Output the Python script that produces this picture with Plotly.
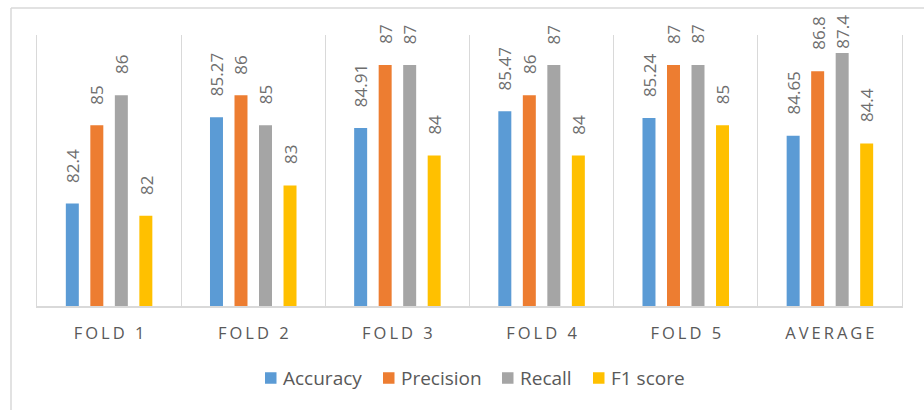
import plotly.graph_objects as go

# ---- data -------------------------------------------------------------
categories = ["FOLD 1", "FOLD 2", "FOLD 3", "FOLD 4", "FOLD 5", "AVERAGE"]
accuracy = [82.4, 85.27, 84.91, 85.47, 85.24, 84.65]
precision = [85, 86, 87, 86, 87, 86.8]
recall = [86, 85, 87, 87, 87, 87.4]
f1_score = [82, 83, 84, 84, 85, 84.4]

series_names = ["Accuracy", "Precision", "Recall", "F1 score"]
series_values = [accuracy, precision, recall, f1_score]
series_colors = ["#5B9BD5", "#ED7D31", "#A5A5A5", "#FFC000"]

# ---- layout constants --------------------------------------------------
W, H = 924, 410
M_L, M_R, M_T, M_B = 37, 22, 35, 104
PLOT_W = W - M_L - M_R
PLOT_H = H - M_T - M_B
BARGAP = 0.32
BARGROUPGAP = 0.47
Y_RANGE = [79, 88]
TEXT = "#595959"
LABEL_TEXT = "#6E6E6E"
GRID = "#D9D9D9"
FONT = "Open Sans"
LABEL_SIZE = 17
LABEL_GAP = 19          # px between bar top and its label
LABEL_TOP_LIMIT = 15    # labels are kept below this pixel row
LEGEND_ITEM_PX = [265, 383, 502, 593]
LEGEND_Y_PX = 378
LEGEND_BOX = 11.5


def px_to_paper_x(px):
    return (px - M_L) / PLOT_W


def px_to_paper_y(py):
    return (H - M_B - py) / PLOT_H


def value_to_px(v):
    return M_T + (Y_RANGE[1] - v) / (Y_RANGE[1] - Y_RANGE[0]) * PLOT_H


def text_len_px(s):
    # rough advance width of a numeric label
    return sum(0.26 if ch == "." else 0.572 for ch in s) * LABEL_SIZE


fig = go.Figure()
for name, vals, col in zip(series_names, series_values, series_colors):
    fig.add_trace(go.Bar(
        name=name, x=categories, y=vals,
        marker=dict(color=col, line=dict(width=0)),
        hoverinfo="x+y+name", showlegend=False,
    ))

# value labels above each bar, rotated
n = len(series_names)
cat_px = PLOT_W / len(categories)
slot_px = cat_px * (1 - BARGAP) / n
annotations = []
for i, vals in enumerate(series_values):
    dx = (i - (n - 1) / 2) * slot_px
    for c, v in zip(categories, vals):
        label = f"{v:g}"
        top = value_to_px(v) - LABEL_GAP - text_len_px(label) - 2
        shift = LABEL_GAP - max(0, LABEL_TOP_LIMIT - top)
        annotations.append(dict(
            x=c, y=v, xref="x", yref="y",
            text=label, showarrow=False,
            textangle=-90, xanchor="center", yanchor="bottom",
            xshift=dx, yshift=shift,
            font=dict(family=FONT, size=LABEL_SIZE, color=LABEL_TEXT),
        ))

# legend drawn as coloured squares with text
shapes = []
for name, col, lx in zip(series_names, series_colors, LEGEND_ITEM_PX):
    shapes.append(dict(
        type="rect", xref="paper", yref="paper",
        x0=px_to_paper_x(lx), x1=px_to_paper_x(lx + LEGEND_BOX),
        y0=px_to_paper_y(LEGEND_Y_PX + LEGEND_BOX / 2),
        y1=px_to_paper_y(LEGEND_Y_PX - LEGEND_BOX / 2),
        fillcolor=col, line=dict(width=0),
    ))
    annotations.append(dict(
        x=px_to_paper_x(lx + LEGEND_BOX + 4), y=px_to_paper_y(LEGEND_Y_PX),
        xref="paper", yref="paper", xanchor="left", yanchor="middle",
        text=name, showarrow=False,
        font=dict(family=FONT, size=19, color=TEXT),
    ))

# light frame around the whole chart area
frame_l, frame_t = 11, 8
shapes += [
    dict(type="line", xref="paper", yref="paper",
         x0=px_to_paper_x(frame_l), x1=px_to_paper_x(frame_l),
         y0=px_to_paper_y(frame_t), y1=px_to_paper_y(H + 5),
         line=dict(color=GRID, width=1.5)),
    dict(type="line", xref="paper", yref="paper",
         x0=px_to_paper_x(frame_l), x1=px_to_paper_x(W + 5),
         y0=px_to_paper_y(frame_t), y1=px_to_paper_y(frame_t),
         line=dict(color=GRID, width=1.5)),
]

fig.update_layout(
    width=W, height=H,
    margin=dict(l=M_L, r=M_R, t=M_T, b=M_B, pad=0),
    paper_bgcolor="white", plot_bgcolor="white",
    barmode="group", bargap=BARGAP, bargroupgap=BARGROUPGAP,
    font=dict(family=FONT, color=TEXT),
    showlegend=False,
    annotations=annotations,
    shapes=shapes,
)

fig.update_xaxes(
    type="category", tickson="boundaries",
    showgrid=True, gridcolor=GRID, gridwidth=1,
    showline=True, linecolor=GRID, linewidth=2,
    ticks="", ticklabelstandoff=11,
    tickfont=dict(family=FONT, size=16.5, color=TEXT),
    fixedrange=True,
)
fig.update_yaxes(
    range=Y_RANGE, showgrid=False, zeroline=False,
    showticklabels=False, ticks="",
    showline=True, mirror=True, linecolor=GRID, linewidth=1,
    fixedrange=True,
)

# wide letter spacing for the category labels
post = """
var gd = document.getElementById('{plot_id}');
function spaceTicks() {
  gd.querySelectorAll('.xtick text').forEach(function (t) {
    t.setAttribute('letter-spacing', '3px');
    t.setAttribute('dx', '1.5');
  });
}
spaceTicks();
gd.on('plotly_afterplot', spaceTicks);
"""

fig.write_html("out.html", config={"displayModeBar": False}, post_script=post)
